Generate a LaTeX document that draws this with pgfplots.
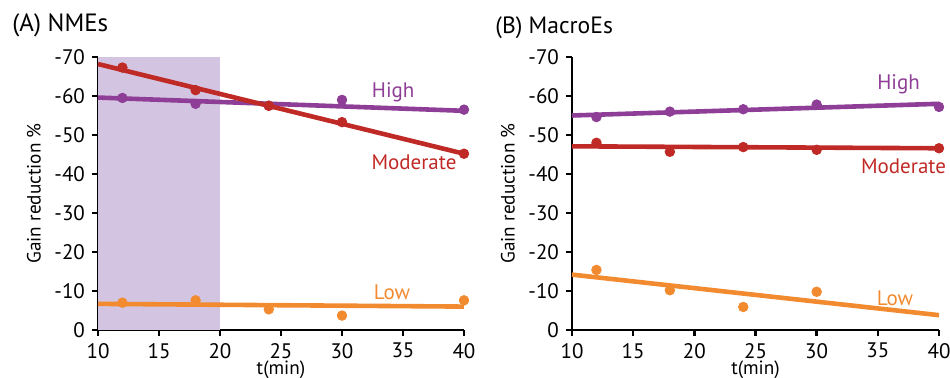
\documentclass[border=0pt]{standalone}
\usepackage{pgfplots}
\pgfplotsset{compat=1.18}
\usepackage{fontspec}
\setmainfont{PT Sans}
\definecolor{cHigh}{RGB}{142,62,150}
\definecolor{cMod}{RGB}{192,42,38}
\definecolor{cLow}{RGB}{242,138,48}
\definecolor{cShade}{RGB}{211,197,225}
\pgfplotsset{
  panel/.style={
    scale only axis, width=183pt, height=136.5pt,
    xmin=10, xmax=40, ymin=-70, ymax=0, y dir=reverse,
    axis x line=bottom, axis y line=left,
    axis line style={line width=1.4pt, -},
    xtick={10,15,...,40}, ytick={-70,-60,...,0},
    tick align=outside, major tick length=3pt,
    tick style={line width=1.2pt, black},
    ticklabel style={font=\fontsize{10.5}{12}\selectfont},
    /pgf/number format/assume math mode=true,
    xlabel={t(min)}, ylabel={Gain reduction \%},
    label style={font=\fontsize{9.6}{11}\selectfont},
    xlabel style={inner sep=0pt, yshift=2.2pt},
    clip=false,
  },
  fitline/.style={line width=2.3pt, no marks},
  pts/.style={only marks, mark=*, mark size=2.4pt},
}
\begin{document}
\begin{tikzpicture}
\useasboundingbox (0,0) rectangle (475pt,189pt);
\node[anchor=west, inner sep=0pt, font=\fontsize{12.5}{14}\selectfont] at (6pt,176.5pt) {(A) NMEs};
\node[anchor=west, inner sep=0pt, font=\fontsize{11.8}{14}\selectfont] at (247.5pt,175pt) {(B) MacroEs};
\begin{axis}[panel, at={(49pt,24pt)}, anchor=south west]
  \addplot[fill=cShade, draw=none] coordinates {(10,0) (20,0) (20,-70) (10,-70)} -- cycle;
  % High
  \addplot[fitline, cHigh] coordinates {(10,-59.6) (40,-56.2)};
  \addplot[pts, cHigh] coordinates {(12,-59.5) (18,-58) (24,-57.5) (30,-59) (40,-56.5)};
  % Moderate
  \addplot[fitline, cMod] coordinates {(10,-68.2) (40,-45.2)};
  \addplot[pts, cMod] coordinates {(12,-67.3) (18,-61.5) (24,-57.5) (30,-53.3) (40,-45.2)};
  % Low
  \addplot[fitline, cLow] coordinates {(10,-6.7) (40,-6.0)};
  \addplot[pts, cLow] coordinates {(12,-7.0) (18,-7.6) (24,-5.3) (30,-3.7) (40,-7.6)};
  \node[cHigh, font=\fontsize{10.5}{12}\selectfont] at (axis cs:34.2,-61) {High};
  \node[cMod, font=\fontsize{10.5}{12}\selectfont] at (axis cs:35.9,-43) {Moderate};
  \node[cLow, font=\fontsize{10.5}{12}\selectfont] at (axis cs:34.1,-9.7) {Low};
\end{axis}
\begin{axis}[panel, at={(286pt,24pt)}, anchor=south west, width=183.5pt]
  % High
  \addplot[fitline, cHigh] coordinates {(10,-55.0) (40,-58.0)};
  \addplot[pts, cHigh] coordinates {(12,-54.6) (18,-56.0) (24,-56.6) (30,-57.8) (40,-57.2)};
  % Moderate
  \addplot[fitline, cMod] coordinates {(10,-47.1) (40,-46.6)};
  \addplot[pts, cMod] coordinates {(12,-48.0) (18,-45.7) (24,-46.9) (30,-46.2) (40,-46.6)};
  % Low
  \addplot[fitline, cLow] coordinates {(10,-14.2) (40,-3.8)};
  \addplot[pts, cLow] coordinates {(12,-15.4) (18,-10.2) (24,-5.9) (30,-9.8)};
  \node[cHigh, font=\fontsize{10.5}{12}\selectfont] at (axis cs:36.7,-63) {High};
  \node[cMod, font=\fontsize{10.5}{12}\selectfont] at (axis cs:37.1,-42) {Moderate};
  \node[cLow, font=\fontsize{10.5}{12}\selectfont] at (axis cs:36.4,-8.2) {Low};
\end{axis}
\end{tikzpicture}
\end{document}
